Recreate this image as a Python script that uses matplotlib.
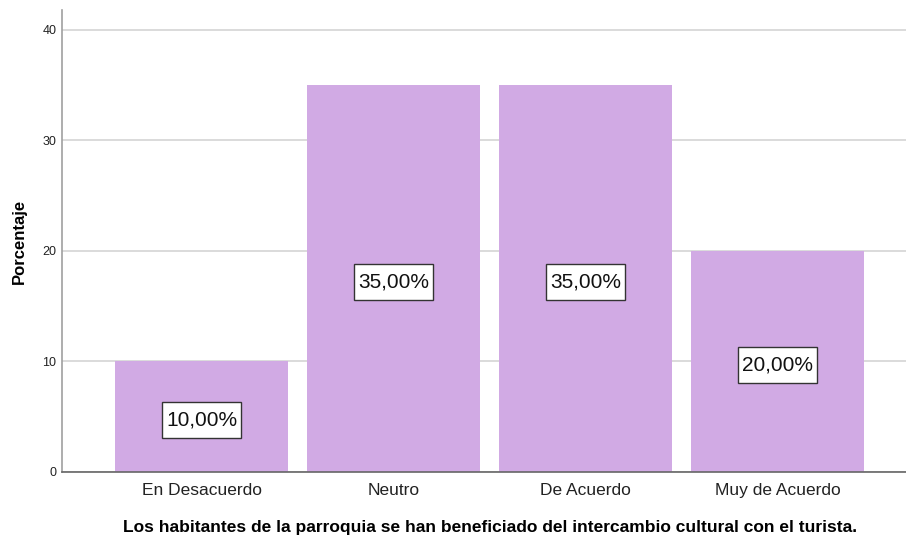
import matplotlib
matplotlib.use("Agg")
import matplotlib.pyplot as plt
from matplotlib.path import Path

categories = ["En Desacuerdo", "Neutro", "De Acuerdo", "Muy de Acuerdo"]
percentages = [10.0, 35.0, 35.0, 20.0]
yticks = [0, 10, 20, 30, 40]
xlabel = "Los habitantes de la parroquia se han beneficiado del intercambio cultural con el turista."
ylabel = "Porcentaje"

plt.rcParams['font.family'] = ['Liberation Sans', 'DejaVu Sans']


def label_box(x0, y0, width, height, mutation_size):
    px = 0.19 * mutation_size
    py = 0.40 * mutation_size
    x0, y0 = x0 - px, y0 - py
    x1, y1 = x0 + width + 2 * px, y0 + height + 2 * py
    return Path([(x0, y0), (x1, y0), (x1, y1), (x0, y1), (x0, y0)], closed=True)


W, H = 906, 540
fig = plt.figure(figsize=(W / 100, H / 100), dpi=100)
ax = fig.add_axes([62 / W, (540 - 472) / H, (906 - 62) / W, (472 - 10) / H])

x = list(range(len(categories)))
ax.bar(x, percentages, width=173 / 192, color="#D1AAE4", zorder=2)

for xi, v in zip(x, percentages):
    ax.text(xi, v / 2 - 0.3, f"{v:.2f}%".replace(".", ","), ha="center", va="center",
            fontsize=15, color="#111111", zorder=3,
            bbox=dict(boxstyle=label_box, facecolor="white", edgecolor="#333333", linewidth=1))

ax.set_xlim(-0.7266, 3.669)
ax.set_ylim(0, 41.8)
ax.set_yticks(yticks)
ax.set_yticklabels([str(t) for t in yticks], fontsize=9, color="#222222")
ax.set_xticks(x)
ax.set_xticklabels(categories, fontsize=12.5, color="#222222")
ax.tick_params(axis="x", length=0, pad=8)
ax.tick_params(axis="y", length=0, pad=4)

ax.yaxis.grid(True, color="#D4D4D4", linewidth=1.2, zorder=0)
ax.set_axisbelow(True)
for s in ["top", "right"]:
    ax.spines[s].set_visible(False)
ax.spines["left"].set_color("#A0A0A0")
ax.spines["left"].set_linewidth(1.2)
ax.spines["bottom"].set_color("#666666")
ax.spines["bottom"].set_linewidth(1.2)

ax.set_xlabel(xlabel, fontsize=12.5, fontweight="bold")
ax.xaxis.set_label_coords(0.507, -0.121)
ax.xaxis.label.set_va("center")
ax.set_ylabel(ylabel, fontsize=12, fontweight="bold", labelpad=11)

fig.savefig("out.png", dpi=100)
